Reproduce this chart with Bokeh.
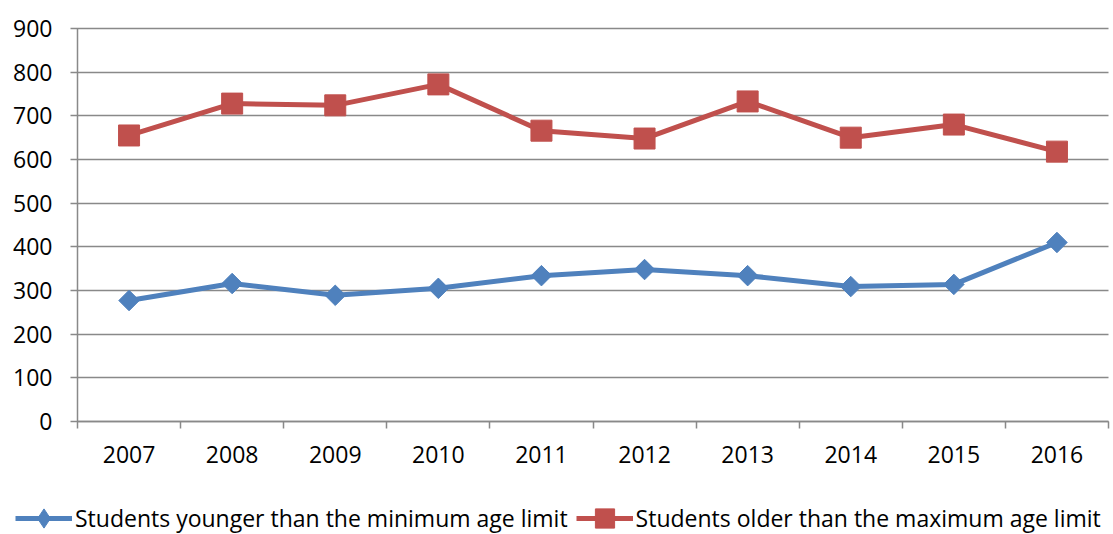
import math
from bokeh.plotting import figure
from bokeh.models import FixedTicker, Legend, LegendItem, Range1d
from bokeh.embed import file_html
from bokeh.resources import INLINE

years = ["2007", "2008", "2009", "2010", "2011", "2012", "2013", "2014", "2015", "2016"]
younger = [277, 316, 289, 305, 334, 348, 334, 309, 314, 410]
older = [655, 728, 724, 772, 666, 648, 733, 650, 680, 618]
y_ticks = [0, 100, 200, 300, 400, 500, 600, 700, 800, 900]
series_names = ["Students younger than the minimum age limit",
                "Students older than the maximum age limit"]

xs = list(range(1, len(years) + 1))
FONT = "Open Sans"
FS = "23px"
GRID = "#898989"
BLUE = "#4F81BD"
RED = "#C0504D"

# page geometry (pixels): plot area box inside the full-canvas frame
W, H = 1113, 534
PL, PR, PT, PB = 77, 1108, 28, 421
YMAX = 900
n = len(years)
xpx = (PR - PL) / n            # px per category
ypx = (PB - PT) / YMAX         # px per unit
x0 = 0.5 - PL / xpx
x1 = n + 0.5 + (W - PR) / xpx
y0 = -(H - PB) / ypx
y1 = YMAX + PT / ypx

p = figure(width=W, height=H, output_backend="svg", toolbar_location=None,
           x_range=Range1d(x0, x1), y_range=Range1d(y0, y1), min_border=0)
p.outline_line_color = None
p.grid.visible = False

yax = p.yaxis[0]
yax.fixed_location = 0.5
yax.bounds = (0, YMAX)
yax.level = "underlay"
yax.ticker = FixedTicker(ticks=y_ticks)
yax.axis_line_color = GRID
yax.axis_line_width = 1.5
yax.major_tick_line_color = GRID
yax.major_tick_line_width = 1.5
yax.major_tick_in = PR - PL
yax.major_tick_out = 7
yax.minor_tick_line_color = None
yax.major_label_text_font = FONT
yax.major_label_text_font_size = FS
yax.major_label_text_color = "#000000"
yax.major_label_standoff = 18

xax = p.xaxis[0]
xax.fixed_location = 0
xax.bounds = (0.5, n + 0.5)
xax.level = "underlay"
bounds = [i + 0.5 for i in range(0, n + 1)]
xax.ticker = FixedTicker(ticks=xs, minor_ticks=bounds)
xax.major_label_overrides = {x: y for x, y in zip(xs, years)}
xax.axis_line_color = GRID
xax.axis_line_width = 1.5
xax.major_tick_line_color = None
xax.major_tick_in = 0
xax.major_tick_out = 0
xax.minor_tick_line_color = GRID
xax.minor_tick_line_width = 1.5
xax.minor_tick_in = 0
xax.minor_tick_out = 7
xax.major_label_text_font = FONT
xax.major_label_text_font_size = FS
xax.major_label_text_color = "#000000"
xax.major_label_standoff = 17

l1 = p.line(xs, younger, line_color=BLUE, line_width=5)
s1 = p.scatter(xs, younger, marker="square", angle=math.pi / 4, size=14.5,
               fill_color=BLUE, line_color=BLUE)
# hidden diamond copy used only for the legend key (legend ignores marker angle)
k1 = p.scatter(xs, younger, marker="diamond", size=24, fill_color=BLUE,
               line_color=BLUE, visible=False)
l2 = p.line(xs, older, line_color=RED, line_width=5)
s2 = p.scatter(xs, older, marker="square", size=21, fill_color=RED, line_color=RED)

legend = Legend(items=[
    LegendItem(label=series_names[0], renderers=[l1, k1]),
    LegendItem(label=series_names[1], renderers=[l2, s2]),
], orientation="horizontal", location=(15, -8))
legend.label_text_font = FONT
legend.label_text_font_size = FS
legend.label_text_color = "#000000"
legend.glyph_width = 57
legend.glyph_height = 48
legend.spacing = 8
legend.padding = 0
legend.label_standoff = 3
legend.margin = 0
legend.border_line_color = None
legend.background_fill_alpha = 0
legend.inactive_fill_alpha = 0
p.add_layout(legend, "center")

open("out.html", "w").write(file_html(p, INLINE))
